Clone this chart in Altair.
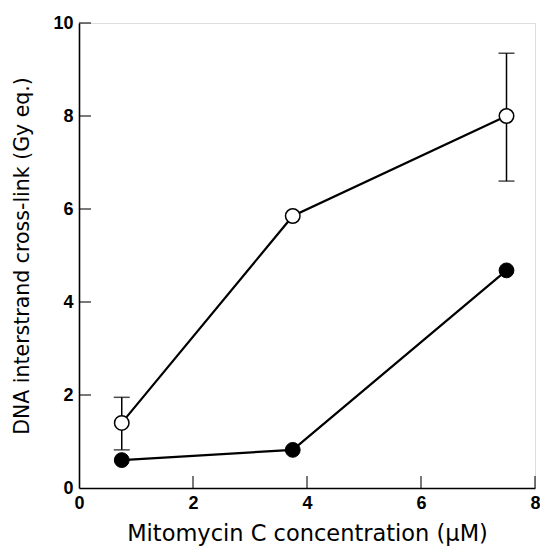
import altair as alt
import pandas as pd

conc = [0.75, 3.75, 7.5]
open_vals = [1.4, 5.85, 8.0]
open_err_x = [0.75, 7.5]
open_err_lo = [0.82, 6.6]
open_err_hi = [1.95, 9.35]
filled_vals = [0.6, 0.82, 4.68]
x_ticks = [2, 4, 6, 8]
y_ticks = [2, 4, 6, 8, 10]

W, H = 456, 465
LFONT = "Liberation Sans"
TFONT = "DejaVu Sans"

df_open = pd.DataFrame({"x": conc, "y": open_vals})
df_filled = pd.DataFrame({"x": conc, "y": filled_vals})
df_err = pd.DataFrame({"x": open_err_x, "lo": open_err_lo, "hi": open_err_hi})
df_xt = pd.DataFrame({"t": x_ticks})
df_yt = pd.DataFrame({"t": y_ticks})

xs = alt.Scale(domain=[0, 8], nice=False, zero=False)
ys = alt.Scale(domain=[0, 10], nice=False, zero=False)

xaxis = alt.Axis(values=[0, 2, 4, 6, 8], format="d", ticks=False, grid=False, domainColor="black",
                 domainWidth=1.6, labelFont=LFONT, labelFontSize=18, labelFontWeight="bold",
                 labelColor="black", labelPadding=6, title="Mitomycin C concentration (μM)",
                 titleFont=TFONT, titleFontSize=22.5, titleFontWeight="normal", titleColor="black",
                 titleY=52, titleBaseline="alphabetic", labelFlush=False)
yaxis = alt.Axis(values=[0, 2, 4, 6, 8, 10], format="d", ticks=False, grid=False, domainColor="black",
                 domainWidth=1.6, labelFont=LFONT, labelFontSize=18, labelFontWeight="bold",
                 labelColor="black", labelPadding=6, title="DNA interstrand cross-link (Gy eq.)",
                 titleFont=TFONT, titleFontSize=20.5, titleFontWeight="normal", titleColor="black",
                 titleX=-51, titleBaseline="alphabetic", labelFlush=False)

base_x = alt.X("x:Q", scale=xs, axis=xaxis)
base_y = alt.Y("y:Q", scale=ys, axis=yaxis)

line_open = alt.Chart(df_open).mark_line(color="black", strokeWidth=2.2).encode(x=base_x, y=base_y)
line_filled = alt.Chart(df_filled).mark_line(color="black", strokeWidth=2.2).encode(x=base_x, y=base_y)

err_rule = alt.Chart(df_err).mark_rule(color="black", strokeWidth=1.5).encode(
    x=alt.X("x:Q", scale=xs), y=alt.Y("lo:Q", scale=ys), y2="hi:Q")
cap_lo = alt.Chart(df_err).mark_tick(color="black", orient="horizontal", size=16, thickness=1.5).encode(
    x=alt.X("x:Q", scale=xs), y=alt.Y("lo:Q", scale=ys))
cap_hi = alt.Chart(df_err).mark_tick(color="black", orient="horizontal", size=16, thickness=1.5).encode(
    x=alt.X("x:Q", scale=xs), y=alt.Y("hi:Q", scale=ys))

pts_open = alt.Chart(df_open).mark_point(shape="circle", filled=True, fill="white", stroke="black",
                                         strokeWidth=1.5, size=210, opacity=1).encode(x=base_x, y=base_y)
pts_filled = alt.Chart(df_filled).mark_point(shape="circle", filled=True, fill="black", stroke="black",
                                             strokeWidth=1, size=220, opacity=1).encode(x=base_x, y=base_y)

xt = alt.Chart(df_xt).mark_tick(color="black", orient="vertical", size=12, thickness=1.5).encode(
    x=alt.X("t:Q", scale=xs), y=alt.value(H - 6))
yt = alt.Chart(df_yt).mark_tick(color="black", orient="horizontal", size=12, thickness=1.5).encode(
    y=alt.Y("t:Q", scale=ys), x=alt.value(6))

chart = alt.layer(line_open, line_filled, err_rule, cap_lo, cap_hi, pts_open, pts_filled, xt, yt).properties(
    width=W, height=H,
    autosize=alt.AutoSizeParams(type="none"),
    padding={"left": 71, "top": 15, "right": 5, "bottom": 58},
).configure_view(stroke=None).configure(background="white")

chart.save("out.html", embed_options={"renderer": "svg", "actions": False})
